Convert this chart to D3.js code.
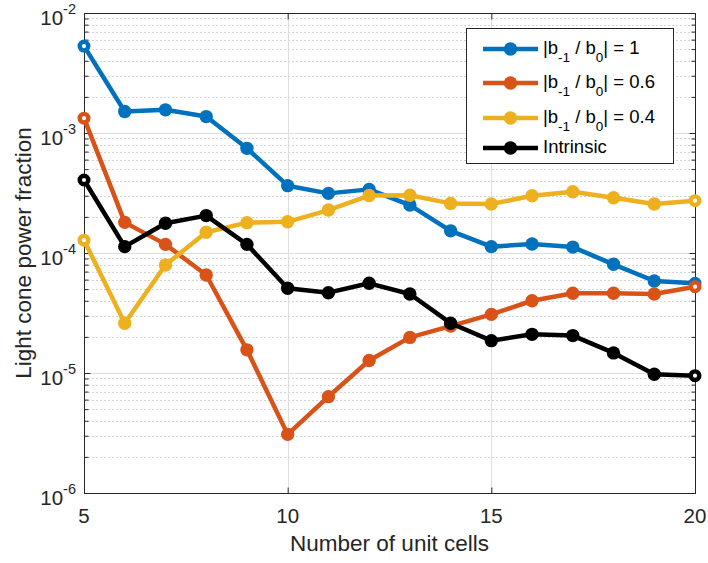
<!DOCTYPE html>
<html>
<head>
<meta charset="utf-8">
<script src="https://cdn.jsdelivr.net/npm/d3@7"></script>
<style>
  html, body { margin: 0; padding: 0; background: #fff; }
  svg { display: block; font-family: "Liberation Sans", Arial, Helvetica, sans-serif; }
</style>
</head>
<body>
<svg id="chart" width="708" height="563"></svg>
<script>
// Number of unit cells
const cells = [5, 6, 7, 8, 9, 10, 11, 12, 13, 14, 15, 16, 17, 18, 19, 20];

// Light cone power fraction for each configuration
const ratio1 = [5.3e-3, 1.51e-3, 1.56e-3, 1.37e-3, 7.45e-4, 3.64e-4, 3.14e-4, 3.39e-4,
                2.51e-4, 1.53e-4, 1.13e-4, 1.19e-4, 1.12e-4, 8.05e-5, 5.84e-5, 5.59e-5];
const ratio06 = [1.33e-3, 1.80e-4, 1.18e-4, 6.56e-5, 1.56e-5, 3.08e-6, 6.35e-6, 1.27e-5,
                 1.98e-5, 2.46e-5, 3.08e-5, 4.0e-5, 4.62e-5, 4.62e-5, 4.55e-5, 5.24e-5];
const ratio04 = [1.28e-4, 2.6e-5, 7.94e-5, 1.49e-4, 1.79e-4, 1.82e-4, 2.28e-4, 3.01e-4,
                 3.03e-4, 2.59e-4, 2.56e-4, 3.0e-4, 3.24e-4, 2.89e-4, 2.56e-4, 2.73e-4];
const intrinsic = [4.06e-4, 1.13e-4, 1.77e-4, 2.05e-4, 1.18e-4, 5.08e-5, 4.67e-5, 5.59e-5,
                   4.55e-5, 2.6e-5, 1.86e-5, 2.10e-5, 2.05e-5, 1.47e-5, 9.75e-6, 9.5e-6];

// Legend entries: [prefix, sub1, middle, sub2, suffix]
const legendLabels = [
  ["|b", "-1", " / b", "0", "| = 1"],
  ["|b", "-1", " / b", "0", "| = 0.6"],
  ["|b", "-1", " / b", "0", "| = 0.4"],
  ["Intrinsic"]
];

const xTicks = [5, 10, 15, 20];
const yDecades = [-6, -5, -4, -3, -2];

const colors = ["#0072BD", "#D95319", "#EDB120", "#000000"];
const seriesValues = [ratio1, ratio06, ratio04, intrinsic];

const svg = d3.select("#chart");
const plotL = 84, plotR = 695, plotT = 13, plotB = 493;
const axisColor = "#262626";

const x = d3.scaleLinear().domain([5, 20]).range([plotL, plotR]);
const y = d3.scaleLog().domain([1e-6, 1e-2]).range([plotB, plotT]);

// Grid: minor (dotted) and major (solid)
const minorVals = [];
yDecades.slice(0, -1).forEach(p => {
  for (let m = 2; m <= 9; m++) minorVals.push(m * Math.pow(10, p));
});
const grid = svg.append("g");
grid.selectAll("line.minor").data(minorVals).join("line")
  .attr("x1", plotL).attr("x2", plotR)
  .attr("y1", d => Math.round(y(d)) + 0.5).attr("y2", d => Math.round(y(d)) + 0.5)
  .attr("stroke", "#d4d4d4").attr("stroke-width", 1).attr("stroke-dasharray", "2,2");
grid.selectAll("line.majory").data(yDecades.slice(1, -1)).join("line")
  .attr("x1", plotL).attr("x2", plotR)
  .attr("y1", d => Math.round(y(Math.pow(10, d))) + 0.5).attr("y2", d => Math.round(y(Math.pow(10, d))) + 0.5)
  .attr("stroke", "#dedede").attr("stroke-width", 1);
grid.selectAll("line.majorx").data(xTicks.slice(1, -1)).join("line")
  .attr("x1", d => Math.round(x(d)) + 0.5).attr("x2", d => Math.round(x(d)) + 0.5)
  .attr("y1", plotT).attr("y2", plotB)
  .attr("stroke", "#dedede").attr("stroke-width", 1);

// Axes box with inward ticks
const axes = svg.append("g");
axes.append("rect")
  .attr("x", plotL + 0.5).attr("y", plotT + 0.5)
  .attr("width", plotR - plotL).attr("height", plotB - plotT)
  .attr("fill", "none").attr("stroke", axisColor).attr("stroke-width", 1);

const majorVals = yDecades.map(p => Math.pow(10, p));
const yAxisL = d3.axisLeft(y).tickValues(majorVals).tickSizeInner(-6).tickSizeOuter(0).tickFormat("");
const yAxisR = d3.axisRight(y).tickValues(majorVals).tickSizeInner(-6).tickSizeOuter(0).tickFormat("");
const yMinorL = d3.axisLeft(y).tickValues(minorVals).tickSizeInner(-4).tickSizeOuter(0).tickFormat("");
const yMinorR = d3.axisRight(y).tickValues(minorVals).tickSizeInner(-4).tickSizeOuter(0).tickFormat("");
const xAxisB = d3.axisBottom(x).tickValues(xTicks).tickSizeInner(-6).tickSizeOuter(0).tickFormat("");
const xAxisT = d3.axisTop(x).tickValues(xTicks).tickSizeInner(-6).tickSizeOuter(0).tickFormat("");

[[yAxisL, `translate(${plotL + 0.5},0)`], [yMinorL, `translate(${plotL + 0.5},0)`],
 [yAxisR, `translate(${plotR + 0.5},0)`], [yMinorR, `translate(${plotR + 0.5},0)`],
 [xAxisB, `translate(0,${plotB + 0.5})`], [xAxisT, `translate(0,${plotT + 0.5})`]]
  .forEach(([ax, tr]) => {
    const g = axes.append("g").attr("transform", tr).call(ax);
    g.select(".domain").remove();
    g.selectAll("line").attr("stroke", axisColor);
  });

// Tick labels
const yLab = svg.append("g").attr("fill", axisColor);
yDecades.forEach(p => {
  const t = yLab.append("text")
    .attr("x", 76).attr("y", y(Math.pow(10, p)) + 12)
    .attr("text-anchor", "end").attr("font-size", 20.5);
  t.append("tspan").text("10");
  t.append("tspan").attr("dy", -11).attr("font-size", 14.5).text(String(p));
});
svg.append("g").selectAll("text").data(xTicks).join("text")
  .attr("x", d => x(d)).attr("y", 523)
  .attr("text-anchor", "middle").attr("font-size", 20.5).attr("fill", axisColor)
  .text(d => d);

// Axis titles
svg.append("text")
  .attr("x", (plotL + plotR) / 2).attr("y", 551)
  .attr("text-anchor", "middle").attr("font-size", 22.5).attr("fill", axisColor)
  .text("Number of unit cells");
svg.append("text")
  .attr("transform", `translate(31,${(plotT + plotB) / 2}) rotate(-90)`)
  .attr("text-anchor", "middle").attr("font-size", 22.5).attr("fill", axisColor)
  .text("Light cone power fraction");

// Series lines and markers
const line = d3.line().x((d, i) => x(cells[i])).y(d => y(d));
const plot = svg.append("g");
seriesValues.forEach((vals, s) => {
  const g = plot.append("g");
  g.append("path").datum(vals)
    .attr("d", line).attr("fill", "none")
    .attr("stroke", colors[s]).attr("stroke-width", 4.5)
    .attr("stroke-linejoin", "round").attr("stroke-linecap", "round");
  const edge = i => i === 0 || i === vals.length - 1;
  g.selectAll("circle").data(vals).join("circle")
    .attr("cx", (d, i) => x(cells[i])).attr("cy", d => y(d))
    .attr("r", (d, i) => edge(i) ? 4.3 : 6.7)
    .attr("fill", (d, i) => edge(i) ? "#fff" : colors[s])
    .attr("stroke", colors[s])
    .attr("stroke-width", (d, i) => edge(i) ? 4.4 : 0);
});

// Legend
const lg = svg.append("g");
lg.append("rect")
  .attr("x", 466.5).attr("y", 28.5).attr("width", 207).attr("height", 135)
  .attr("fill", "#fff").attr("stroke", axisColor).attr("stroke-width", 1);
const rowY = [49, 83, 118, 148];
legendLabels.forEach((parts, i) => {
  const ry = rowY[i];
  lg.append("line").attr("x1", 483).attr("x2", 538).attr("y1", ry).attr("y2", ry)
    .attr("stroke", colors[i]).attr("stroke-width", 4.5);
  lg.append("circle").attr("cx", 510.5).attr("cy", ry).attr("r", 6.7).attr("fill", colors[i]);
  const t = lg.append("text").attr("x", 543).attr("y", ry + 5)
    .attr("font-size", 18.5).attr("fill", "#000");
  if (parts.length === 1) {
    t.text(parts[0]);
  } else {
    t.append("tspan").text(parts[0]);
    t.append("tspan").attr("dy", 8).attr("font-size", 13.5).text(parts[1]);
    t.append("tspan").attr("dy", -8).text(parts[2]);
    t.append("tspan").attr("dy", 8).attr("font-size", 13.5).text(parts[3]);
    t.append("tspan").attr("dy", -8).text(parts[4]);
  }
});
</script>
</body>
</html>
